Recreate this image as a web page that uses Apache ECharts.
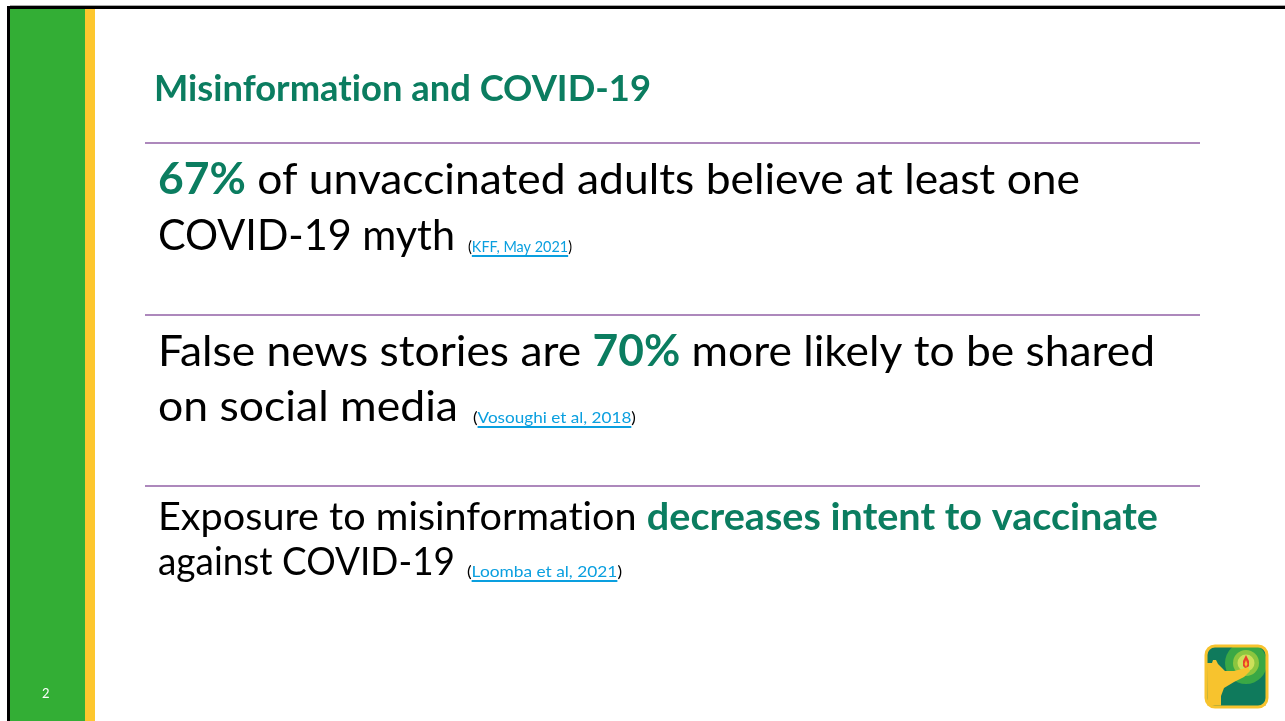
<!DOCTYPE html>
<html><head><meta charset="utf-8">
<script src="https://cdn.jsdelivr.net/npm/echarts@6/dist/echarts.min.js"></script>
<style>html,body{margin:0;padding:0;background:#fff;overflow:hidden}#c{width:1285px;height:721px}</style>
</head><body><div id="c"></div>
<script>
// ---- content ----
const title = 'Misinformation and COVID-19';
const pageNumber = '2';
// each segment: [text, emphasised]
const item1Line1 = [['67%', true], [' of unvaccinated adults believe at least one', false]];
const item1Line2 = [['COVID-19 myth', false]];
const item1Cite = 'KFF, May 2021';
const item2Line1 = [['False news stories are ', false], ['70%', true], [' more likely to be shared', false]];
const item2Line2 = [['on social media', false]];
const item2Cite = 'Vosoughi et al, 2018';
const item3Line1 = [['Exposure to misinformation ', false], ['decreases intent to vaccinate', true]];
const item3Line2 = [['against COVID-19', false]];
const item3Cite = 'Loomba et al, 2021';

// ---- styling ----
const FONT = 'Lato';
const GREEN_TXT = '#0b7d60';
const PURPLE = '#9260a6';
const LINK = '#0a9fdf';

const cv = document.createElement('canvas').getContext('2d');
function fnt(size, bold){ return (bold ? 'bold ' : '') + size + 'px ' + FONT; }
function width(t, size, bold){ cv.font = fnt(size, bold); return cv.measureText(t).width; }
function midOff(size, bold){
  cv.font = fnt(size, bold);
  const m = cv.measureText('H');
  if (m.fontBoundingBoxAscent !== undefined) return (m.fontBoundingBoxAscent - m.fontBoundingBoxDescent) / 2;
  return 0.387 * size;
}
// break text between "t" and "i" so the font's ti ligature is not used
function pieces(t){ return t.replace(/ti/g, 't\u0000i').split('\u0000'); }
const els = [];
function txt(t, x, base, size, bold, color, sx){
  sx = sx || 1;
  pieces(t).forEach(p => {
    els.push({type:'text', x:x, y: base - midOff(size, bold), scaleX:sx, silent:true,
      style:{text:p, fill:color, fontFamily:FONT, fontSize:size, fontWeight: bold?'bold':'normal',
        align:'left', verticalAlign:'middle'}});
    x += width(p, size, bold) * sx;
  });
  return x;
}
function natural(t, size, bold){ return pieces(t).reduce((a, p) => a + width(p, size, bold), 0); }
// lay out a line of segments between x0 and a right edge x1
function line(segs, x0, x1, base, size){
  const tot = segs.reduce((a, s) => a + natural(s[0], size, s[1]), 0);
  const sx = (x1 - x0) / tot;
  let x = x0;
  segs.forEach(s => { x = txt(s[0], x, base, size, s[1], s[1] ? GREEN_TXT : '#000', sx); });
  return x;
}
function cite(t, x0, x1, base, size){
  const tot = natural('(' + t + ')', size, false);
  const sx = (x1 - x0) / tot;
  let x = txt('(', x0, base, size, false, '#000', sx);
  const xa = x;
  x = txt(t, x, base, size, false, LINK, sx);
  els.push({type:'line', silent:true, shape:{x1:xa, y1:base+3, x2:x, y2:base+3}, style:{stroke:LINK, lineWidth:1.8}});
  txt(')', x, base, size, false, '#000', sx);
}

// frame
els.push({type:'rect', shape:{x:0,y:0,width:1285,height:721}, style:{fill:'#fff'}, silent:true});
els.push({type:'rect', shape:{x:10,y:9,width:76,height:712}, style:{fill:'#33ae35'}, silent:true});
els.push({type:'rect', shape:{x:85,y:9,width:10,height:712}, style:{fill:'#fdc72e'}, silent:true});
els.push({type:'rect', shape:{x:7,y:6,width:1278,height:3}, style:{fill:'#000'}, silent:true});
els.push({type:'rect', shape:{x:7,y:6,width:3,height:715}, style:{fill:'#000'}, silent:true});
els.push({type:'rect', shape:{x:10,y:5,width:1275,height:1}, style:{fill:'#aaa'}, silent:true});

txt(pageNumber, 42, 699, 13, false, '#fff');

// title
line([[title, true]], 154, 651, 103, 36);

// dividers
[143, 315, 486].forEach(y => els.push({type:'line', silent:true, shape:{x1:145,y1:y,x2:1200,y2:y}, style:{stroke:PURPLE, lineWidth:1.5}}));

// item 1
line(item1Line1, 158, 1080, 197, 43);
line(item1Line2, 158, 455, 253, 43);
cite(item1Cite, 468, 572, 253, 16);
// item 2
line(item2Line1, 158, 1155, 369, 43);
line(item2Line2, 158, 458, 424, 43);
cite(item2Cite, 473, 636, 424, 16);
// item 3
line(item3Line1, 158, 1158, 533, 38);
line(item3Line2, 158, 455, 578, 38);
cite(item3Cite, 467, 622, 578, 16);

// logo
const LX = 1206, LY = 646;
els.push({type:'rect', silent:true, shape:{x:LX, y:LY, width:61, height:61, r:9}, style:{fill:'#0f7a5c'}});
els.push({type:'circle', silent:true, shape:{cx:LX+40, cy:LY+17, r:21}, style:{fill:'#3aa845'}});
els.push({type:'rect', silent:true, shape:{x:LX+15, y:LY-8, width:55, height:9}, style:{fill:'#fff'}});
els.push({type:'rect', silent:true, shape:{x:LX+61, y:LY, width:8, height:45}, style:{fill:'#fff'}});
els.push({type:'circle', silent:true, shape:{cx:LX+40, cy:LY+17, r:13}, style:{fill:'#8cc63f'}});
els.push({type:'circle', silent:true, shape:{cx:LX+40, cy:LY+17, r:8.5}, style:{fill:'#cde05a'}});
els.push({type:'polygon', silent:true, shape:{points:[[LX+40,LY+9],[LX+43,LY+15],[LX+43,LY+20],[LX+40,LY+23],[LX+37,LY+20],[LX+37,LY+15]]}, style:{fill:'#e9412b'}});
els.push({type:'polygon', silent:true, shape:{points:[[LX+40,LY+14],[LX+41.5,LY+18],[LX+40,LY+21],[LX+38.5,LY+18]]}, style:{fill:'#f7c32e'}});
els.push({type:'polygon', silent:true, shape:{points:[
  [LX+1,LY+17],[LX+6,LY+17],[LX+7,LY+14],[LX+10,LY+14],[LX+12,LY+18],[LX+16,LY+22],[LX+19,LY+25],[LX+28,LY+25],
  [LX+36,LY+23],[LX+42,LY+21],[LX+44,LY+25],[LX+38,LY+31],[LX+28,LY+36],[LX+18,LY+42],[LX+15,LY+50],[LX+15,LY+59.5],[LX+1.5,LY+59.5]
]}, style:{fill:'#f7c32e'}});
els.push({type:'polygon', silent:true, shape:{points:[[LX+17,LY+48],[LX+22,LY+42],[LX+59.5,LY+42],[LX+59.5,LY+59.5],[LX+17,LY+59.5]]}, style:{fill:'#0f7a5c'}});
els.push({type:'rect', silent:true, shape:{x:LX, y:LY, width:61, height:61, r:9}, style:{fill:'none', stroke:'#f7c32e', lineWidth:3}});

const chart = echarts.init(document.getElementById('c'), null, {renderer:'canvas'});
chart.setOption({animation:false, graphic:{elements: els}});
</script></body></html>
